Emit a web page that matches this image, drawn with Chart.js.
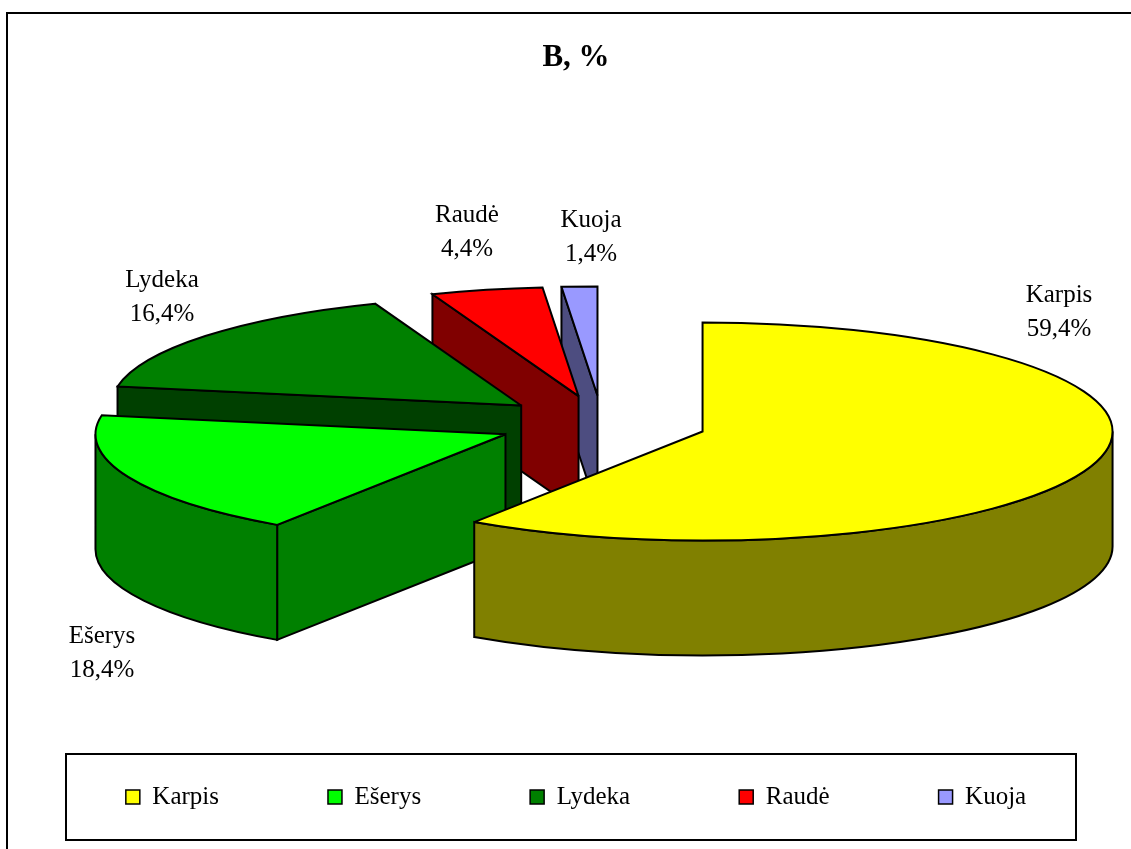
<!DOCTYPE html>
<html>
<head>
<meta charset="utf-8">
<script src="https://cdn.jsdelivr.net/npm/chart.js@4.4.0/dist/chart.umd.min.js"></script>
<style>
html,body{margin:0;padding:0;background:#fff;}
#wrap{width:1131px;height:849px;position:relative;}
</style>
</head>
<body>
<div id="wrap"><canvas id="c" width="1131" height="849"></canvas></div>
<script>
// ---- data ----
const categories = ['Karpis', 'Ešerys', 'Lydeka', 'Raudė', 'Kuoja'];
const shares = [59.4, 18.4, 16.4, 4.4, 1.4];
const topColors = ['#FFFF00', '#00FF00', '#008000', '#FF0000', '#9999FF'];
const sideColors = ['#808000', '#008000', '#004000', '#800000', '#4D4D80'];
const chartTitle = 'B, %';

// ---- style ----
const FONT = "'Liberation Serif','Times New Roman',serif";
const view = { tilt: 0.266, depth: 115, shiftX: 36.6, line: 2 };
const labelStyle = { size: 25, gap: 34 };
const labelSpots = {
  'Karpis': [1059, 302],
  'Ešerys': [102, 643],
  'Lydeka': [162, 287],
  'Raudė': [467, 222],
  'Kuoja': [591, 227]
};
const fmt = v => v.toFixed(1).replace('.', ',') + '%';

const pie3d = {
  id: 'pie3d',
  beforeDatasetsDraw(chart) {
    const ctx = chart.ctx;
    const meta = chart.getDatasetMeta(0);
    const k = view.tilt, h = view.depth;
    const pieces = meta.data.map((arc, i) => {
      const p = arc.getProps(['x', 'y', 'startAngle', 'endAngle', 'outerRadius'], true);
      const d = arc.options.offset || 0;
      const mid = (p.startAngle + p.endAngle) / 2;
      const cx = p.x + view.shiftX + Math.cos(mid) * d;
      const cy = p.y + Math.sin(mid) * d * k;
      const R = p.outerRadius;
      let maxY = cy;
      [p.startAngle, p.endAngle].forEach(a => { maxY = Math.max(maxY, cy + R * k * Math.sin(a)); });
      if (p.startAngle <= Math.PI / 2 && p.endAngle >= Math.PI / 2) maxY = Math.max(maxY, cy + R * k);
      return { i, cx, cy, R, a1: p.startAngle, a2: p.endAngle, maxY };
    });
    pieces.sort((a, b) => a.maxY - b.maxY);

    ctx.save();
    ctx.lineWidth = view.line;
    ctx.strokeStyle = '#000';
    ctx.lineJoin = 'miter';
    ctx.miterLimit = 3;
    const rim = (p, a) => [p.cx + p.R * Math.cos(a), p.cy + p.R * k * Math.sin(a)];
    const radialWall = (p, a) => {
      const [px, py] = rim(p, a);
      ctx.beginPath();
      ctx.moveTo(p.cx, p.cy);
      ctx.lineTo(px, py);
      ctx.lineTo(px, py + h);
      ctx.lineTo(p.cx, p.cy + h);
      ctx.closePath();
      ctx.fillStyle = sideColors[p.i];
      ctx.fill();
      ctx.stroke();
    };
    pieces.forEach(p => {
      // radial walls facing the viewer
      if (Math.cos(p.a1) < -1e-6) radialWall(p, p.a1);
      if (Math.cos(p.a2) > 1e-6) radialWall(p, p.a2);
      // outer (curved) wall, front half only
      const s = Math.max(p.a1, 0), e = Math.min(p.a2, Math.PI);
      if (s < e) {
        const [ex, ey] = rim(p, e);
        ctx.beginPath();
        ctx.ellipse(p.cx, p.cy, p.R, p.R * k, 0, s, e, false);
        ctx.lineTo(ex, ey + h);
        ctx.ellipse(p.cx, p.cy + h, p.R, p.R * k, 0, e, s, true);
        ctx.closePath();
        ctx.fillStyle = sideColors[p.i];
        ctx.fill();
        ctx.stroke();
      }
      // top face
      ctx.beginPath();
      ctx.moveTo(p.cx, p.cy);
      ctx.ellipse(p.cx, p.cy, p.R, p.R * k, 0, p.a1, p.a2, false);
      ctx.closePath();
      ctx.fillStyle = topColors[p.i];
      ctx.fill();
      ctx.stroke();
    });
    ctx.restore();
    return false;
  },
  afterDraw(chart) {
    const ctx = chart.ctx;
    ctx.save();
    // data labels
    ctx.fillStyle = '#000';
    ctx.font = labelStyle.size + 'px ' + FONT;
    ctx.textAlign = 'center';
    ctx.textBaseline = 'alphabetic';
    categories.forEach((c, i) => {
      const [x, y] = labelSpots[c];
      ctx.fillText(c, x, y);
      ctx.fillText(fmt(shares[i]), x, y + labelStyle.gap);
    });
    // legend frame
    ctx.strokeStyle = '#000';
    ctx.lineWidth = 2;
    ctx.strokeRect(66, 754, 1010, 86);
    // outer frame
    ctx.strokeRect(7, 13, 1140, 900);
    ctx.restore();
  }
};

new Chart(document.getElementById('c'), {
  type: 'pie',
  data: {
    labels: categories,
    datasets: [{
      data: shares,
      backgroundColor: topColors,
      borderColor: '#000',
      borderWidth: 1.5,
      offset: 105,
      radius: 410
    }]
  },
  options: {
    responsive: false,
    animation: false,
    layout: { padding: { left: 0, right: -21, top: 0, bottom: 29.5 } },
    plugins: {
      title: {
        display: true,
        text: chartTitle,
        color: '#000',
        font: { family: FONT, size: 31, weight: 'bold', lineHeight: 1.2 },
        padding: { top: 39, bottom: 95 }
      },
      legend: {
        position: 'bottom',
        labels: {
          color: '#000',
          font: { family: FONT, size: 25 },
          boxWidth: 14,
          boxHeight: 14,
          padding: 109
        }
      },
      tooltip: { enabled: false }
    }
  },
  plugins: [pie3d]
});
</script>
</body>
</html>
